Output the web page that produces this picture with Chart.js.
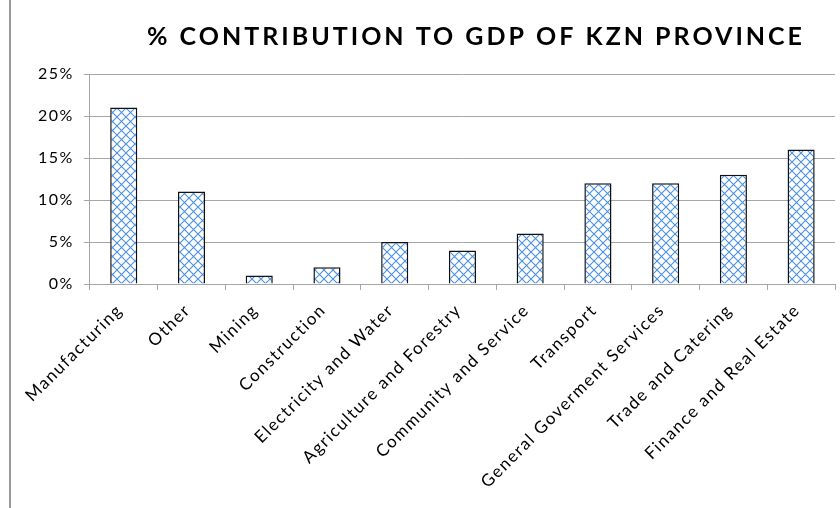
<!DOCTYPE html>
<html>
<head>
<meta charset="utf-8">
<script src="https://cdn.jsdelivr.net/npm/chart.js@4/dist/chart.umd.min.js"></script>
<style>
    body { margin: 0; background: #fff; }
    #wrap { position: relative; width: 840px; height: 508px; }
    #frame { position: absolute; left: 9px; top: 0; bottom: 0; border-left: 2px solid #999; }
</style>
</head>
<body>
<div id="wrap">
    <canvas id="gdpChart" width="840" height="508"></canvas>
    <div id="frame"></div>
</div>
<script>
    // Chart data
    const chartTitle = '% CONTRIBUTION TO GDP OF KZN PROVINCE';
    const sectors = [
        'Manufacturing', 'Other', 'Mining', 'Construction', 'Electricity and Water',
        'Agriculture and Forestry', 'Community and Service', 'Transport',
        'General Goverment Services', 'Trade and Catering', 'Finance and Real Estate'
    ];
    const contribution = [21, 11, 1, 2, 5, 4, 6, 12, 12, 13, 16];
    const yTicks = [0, 5, 10, 15, 20, 25];

    // cross hatch fill like the Excel pattern
    function makeHatch() {
        const size = 9;
        const c = document.createElement('canvas');
        c.width = size;
        c.height = size;
        const g = c.getContext('2d');
        g.fillStyle = '#ffffff';
        g.fillRect(0, 0, size, size);
        g.strokeStyle = 'rgb(74, 144, 226)';
        g.lineWidth = 1.1;
        g.beginPath();
        g.moveTo(-1, -1); g.lineTo(size + 1, size + 1);
        g.moveTo(size + 1, -1); g.lineTo(-1, size + 1);
        g.stroke();
        return g.createPattern(c, 'repeat');
    }

    const ctx = document.getElementById('gdpChart').getContext('2d');

    // spaced-out labels, Calibri style
    const spacing = {
        id: 'spacing',
        beforeLayout(chart) { chart.ctx.letterSpacing = '1.5px'; },
        beforeDraw(chart) { chart.ctx.letterSpacing = '1.5px'; }
    };

    const bigTitle = {
        id: 'bigTitle',
        afterDraw(chart) {
            const c = chart.ctx;
            c.save();
            c.font = 'bold 25px Lato';
            c.letterSpacing = '3px';
            c.fillStyle = '#000';
            c.textAlign = 'center';
            c.textBaseline = 'middle';
            c.fillText(chartTitle, 476, 37);
            c.restore();
        }
    };

    Chart.defaults.font.family = 'Lato';
    Chart.defaults.color = '#000';

    new Chart(ctx, {
        type: 'bar',
        data: {
            labels: sectors,
            datasets: [{
                label: '% contribution',
                data: contribution,
                backgroundColor: makeHatch(),
                borderColor: '#111',
                borderWidth: 1.5,
                barPercentage: 0.4,
                categoryPercentage: 1.0
            }]
        },
        plugins: [spacing, bigTitle],
        options: {
            responsive: false,
            animation: false,
            layout: {
                padding: { top: 74, left: 28, right: 5, bottom: 14 }
            },
            plugins: {
                legend: { display: false },
                title: { display: false },
                tooltip: { enabled: false }
            },
            scales: {
                x: {
                    grid: {
                        offset: true,
                        drawOnChartArea: false,
                        drawTicks: true,
                        tickLength: 6,
                        color: '#a6a6a6'
                    },
                    border: { color: '#a6a6a6' },
                    ticks: {
                        font: { size: 17 },
                        minRotation: 45,
                        maxRotation: 45,
                        autoSkip: false,
                        padding: 10,
                        labelOffset: -4
                    }
                },
                y: {
                    min: 0,
                    max: 25,
                    afterBuildTicks(axis) {
                        axis.ticks = yTicks.map(v => ({ value: v }));
                    },
                    grid: {
                        color: '#a6a6a6',
                        tickLength: 6
                    },
                    border: { color: '#a6a6a6' },
                    ticks: {
                        font: { size: 16 },
                        padding: 10,
                        callback: v => v + '%'
                    }
                }
            }
        }
    });
</script>
</body>
</html>
